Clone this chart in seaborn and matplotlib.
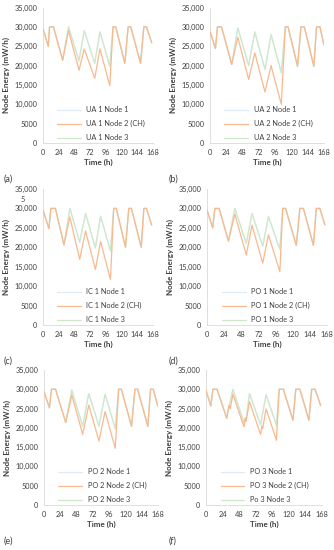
import matplotlib
matplotlib.use("Agg")
import matplotlib.pyplot as plt
import seaborn as sns
import pandas as pd

sns.set_style("white")
plt.rcParams['font.family'] = ['Lato', 'DejaVu Sans']

# (a) UA 1
t_a = [0, 8, 10, 16, 30, 39, 55, 63, 79, 87, 102, 107, 111, 125, 130, 134, 149, 154, 158, 166]
a_node2 = [29500, 25000, 30000, 30000, 21400, 29000, 18800, 24300, 16700, 24300, 14800, 30000, 30000, 20600, 30000, 30000, 20600, 30000, 30000, 25900]
a_node3 = [29500, 25000, 30000, 30000, 21400, 30000, 21200, 29000, 20600, 28700, 19800, 30000, 30000, 20600, 30000, 30000, 20600, 30000, 30000, 25900]

# (b) UA 2
t_b = [0, 8, 11, 17, 32, 41, 57, 66, 81, 90, 105, 111, 115, 129, 134, 139, 153, 157, 162, 168]
b_node2 = [28800, 24400, 30000, 30000, 20300, 27300, 16400, 23300, 13200, 20000, 10000, 30000, 30000, 19800, 30000, 30000, 19800, 30000, 30000, 25300]
b_node3 = [28800, 24400, 30000, 30000, 20300, 29700, 20000, 28700, 19000, 28000, 18200, 30000, 30000, 19800, 30000, 30000, 19800, 30000, 30000, 25300]

# (c) IC 1
t_c = [0, 9, 12, 19, 32, 41, 56, 65, 80, 88, 103, 108, 112, 126, 131, 135, 150, 154, 158, 166]
c_node2 = [29600, 24800, 30000, 30000, 20600, 27800, 16900, 24200, 14300, 21500, 11700, 30000, 30000, 20000, 30000, 30000, 20000, 30000, 30000, 25700]
c_node3 = [29600, 24800, 30000, 30000, 20600, 30000, 21300, 28700, 19800, 28000, 19000, 30000, 30000, 20000, 30000, 30000, 20000, 30000, 30000, 25700]

# (d) PO 1
t_d = [0, 8, 11, 17, 30, 39, 55, 63, 78, 86, 102, 106, 110, 125, 130, 135, 149, 153, 158, 165]
d_node2 = [29600, 25000, 30000, 30000, 21600, 28500, 18000, 25700, 15900, 23200, 13700, 30000, 30000, 20500, 30000, 30000, 20500, 30000, 30000, 25800]
d_node3 = [29600, 25000, 30000, 30000, 21600, 30000, 21000, 28700, 20300, 27900, 19500, 30000, 30000, 20500, 30000, 30000, 20500, 30000, 30000, 25800]

# (e) PO 2
t_e = [0, 8, 11, 17, 32, 41, 57, 66, 81, 90, 105, 110, 114, 129, 134, 138, 153, 157, 161, 168]
e_node2 = [29400, 25200, 30000, 30000, 21400, 28500, 18300, 25900, 16600, 24200, 14700, 30000, 30000, 20400, 30000, 30000, 20400, 30000, 30000, 25500]
e_node3 = [29400, 25200, 30000, 30000, 21400, 29800, 20400, 28900, 20400, 28700, 19800, 30000, 30000, 20400, 30000, 30000, 20400, 30000, 30000, 25500]

# (f) PO 3 (CH line has small notches)
t_f2 = [0, 7, 10, 16, 30, 33, 35, 39, 55, 57, 58, 63, 79, 81, 82, 87, 102, 106, 112, 126, 130, 136, 149, 153, 158, 166]
f_node2 = [29700, 25700, 30000, 30000, 22500, 25800, 25000, 28700, 20300, 22500, 21700, 26800, 18300, 20500, 19800, 24900, 16800, 30000, 30000, 22000, 30000, 30000, 22000, 30000, 30000, 25800]
t_f3 = [0, 7, 10, 16, 30, 39, 55, 57, 58, 63, 79, 87, 102, 106, 112, 126, 130, 136, 149, 153, 158, 166]
f_node3 = [29700, 25700, 30000, 30000, 22500, 30000, 21300, 22600, 21900, 28900, 20800, 28600, 20700, 30000, 30000, 22000, 30000, 30000, 22000, 30000, 30000, 25800]

panels = [
    ("(a)", "UA 1", "UA 1 Node 3", t_a, a_node2, t_a, a_node3, (43, 7.5, 153, 143)),
    ("(b)", "UA 2", "UA 2 Node 3", t_b, b_node2, t_b, b_node3, (210, 7.5, 324, 143)),
    ("(c)", "IC 1", "IC 1 Node 3", t_c, c_node2, t_c, c_node3, (43, 189, 153, 325)),
    ("(d)", "PO 1", "PO 1 Node 3", t_d, d_node2, t_d, d_node3, (207, 189, 327, 325)),
    ("(e)", "PO 2", "PO 2 Node 3", t_e, e_node2, t_e, e_node3, (44, 370, 158, 505)),
    ("(f)", "PO 3", "Po 3 Node 3", t_f2, f_node2, t_f3, f_node3, (206, 370, 322, 505)),
]

y_ticks = [0, 5000, 10000, 15000, 20000, 25000, 30000, 35000]
y_ticklabels = ["0", "5000", "10,000", "15,000", "20,000", "25,000", "30,000", "35,000"]
x_ticks = [0, 24, 48, 72, 96, 120, 144, 168]

W, H = 334, 550
fig = plt.figure(figsize=(W / 100, H / 100), dpi=100)
text_col = "#404040"

for letter, name, n3_label, t2, n2, t3, n3, (l, top, r, b) in panels:
    ax = fig.add_axes([l / W, 1 - b / H, (r - l) / W, (b - top) / H])
    lab1 = name + " Node 1"
    lab2 = name + " Node 2 (CH)"
    df = pd.concat([
        pd.DataFrame({"Time (h)": t3, "energy": n3, "series": lab1}),
        pd.DataFrame({"Time (h)": t2, "energy": n2, "series": lab2}),
        pd.DataFrame({"Time (h)": t3, "energy": n3, "series": n3_label}),
    ])
    sns.lineplot(data=df, x="Time (h)", y="energy", hue="series", sort=False,
                 palette=["#DDEBF7", "#F9B98F", "#CFE8CA"], linewidth=0.9, ax=ax)
    lines = ax.get_lines()
    lines[1].set_zorder(5)
    ax.set_xlim(0, 168)
    ax.set_ylim(0, 35000)
    ax.set_xticks(x_ticks)
    ax.set_yticks(y_ticks)
    ax.set_yticklabels(y_ticklabels)
    ax.tick_params(length=0, labelsize=5.3, colors=text_col, pad=4)
    ax.set_xlabel("Time (h)", fontsize=5.8, fontweight="bold", color=text_col, labelpad=2)
    ax.set_ylabel("Node Energy (mW/h)", fontsize=5.8, fontweight="bold", color=text_col, labelpad=3)
    sns.despine(ax=ax)
    for s in ("left", "bottom"):
        ax.spines[s].set_color("#D9D9D9")
        ax.spines[s].set_linewidth(0.6)
    ax.legend(handles=lines[:3], labels=[lab1, lab2, n3_label], loc="lower left",
              bbox_to_anchor=(0.1, -0.01), frameon=False, fontsize=5.3,
              handlelength=3.2, labelspacing=0.95, borderaxespad=0,
              labelcolor=text_col)
    fig.text((4 if l < 100 else 169) / W, 1 - (b + 36) / H, letter,
             fontsize=6.5, color=text_col, va="center")

fig.text(21 / W, 1 - 200 / H, "5", fontsize=5.3, color=text_col, va="center")

plt.savefig("out.png", dpi=100)
